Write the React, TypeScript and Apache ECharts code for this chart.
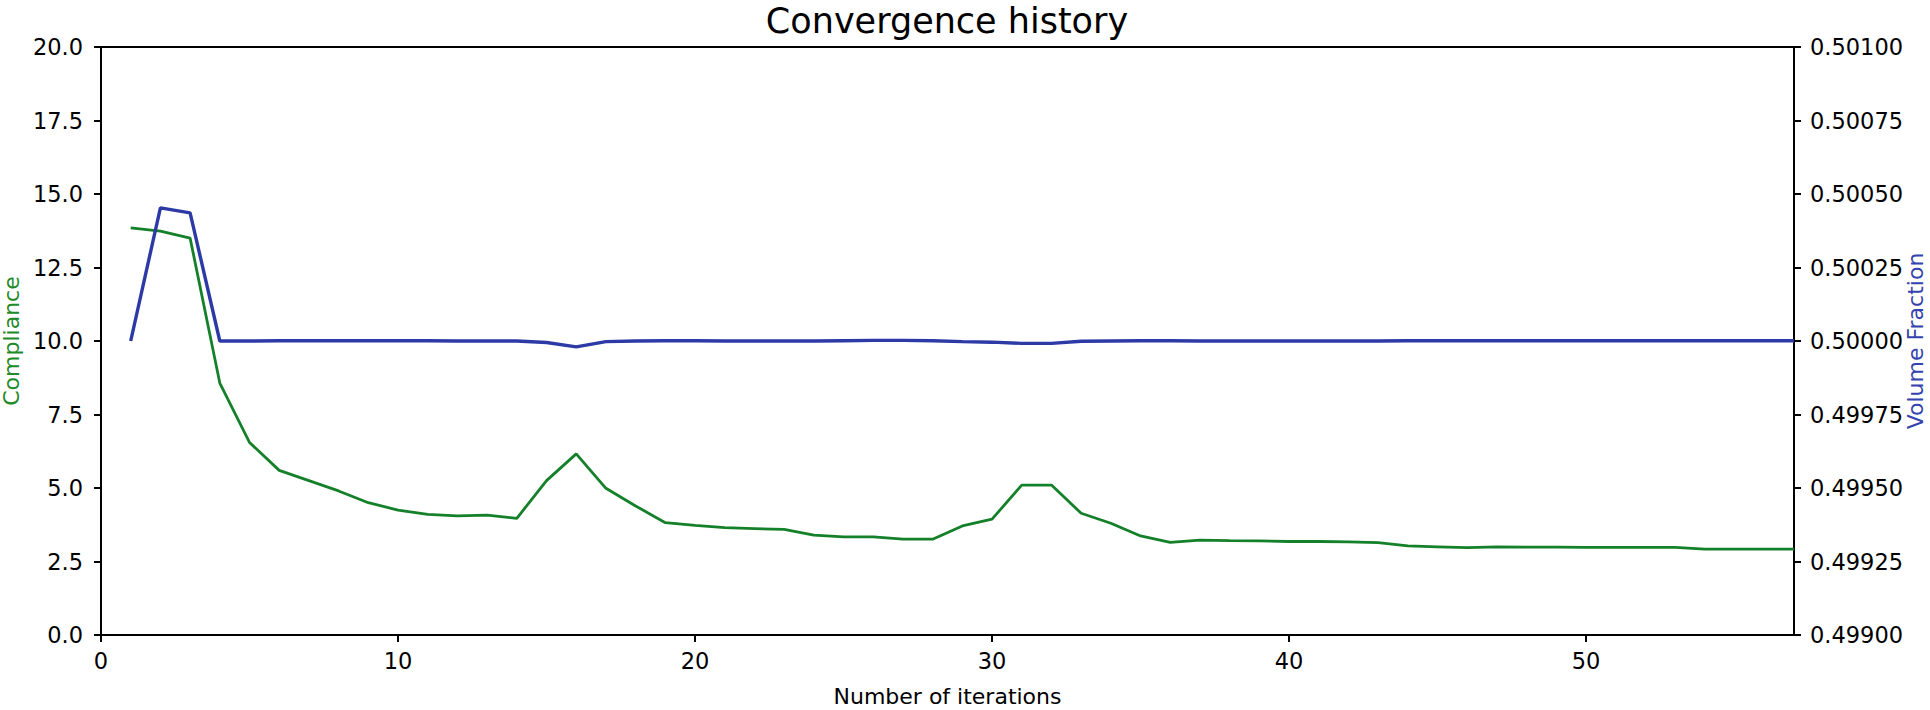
import React, { useEffect, useRef } from "react";
import * as echarts from "echarts";

const iterations: number[] = Array.from({ length: 57 }, (_, i) => i + 1);

const compliance: number[] = [
  13.85, 13.74, 13.5, 8.57, 6.55, 5.6, 5.25, 4.9, 4.5, 4.25,
  4.1, 4.05, 4.08, 3.97, 5.25, 6.16, 4.99, 4.39, 3.82, 3.73,
  3.65, 3.62, 3.59, 3.4, 3.34, 3.34, 3.26, 3.26, 3.71, 3.94,
  5.1, 5.1, 4.14, 3.8, 3.37, 3.15, 3.23, 3.21, 3.2, 3.18,
  3.18, 3.17, 3.14, 3.03, 3.0, 2.97, 3.0, 2.99, 2.99, 2.98,
  2.98, 2.98, 2.98, 2.92, 2.92, 2.92, 2.92,
];

const volumeFraction: number[] = [
  0.5, 0.500453, 0.500436, 0.5, 0.5, 0.500001, 0.500001, 0.500001, 0.500001, 0.500001,
  0.500001, 0.5, 0.5, 0.5, 0.499995, 0.49998, 0.499998, 0.5, 0.500001, 0.500001,
  0.5, 0.5, 0.5, 0.5, 0.500001, 0.500002, 0.500002, 0.500001, 0.499998, 0.499996,
  0.499992, 0.499992, 0.499999, 0.5, 0.500001, 0.500001, 0.5, 0.5, 0.5, 0.5,
  0.5, 0.5, 0.5, 0.500001, 0.500001, 0.500001, 0.500001, 0.500001, 0.500001, 0.500001,
  0.500001, 0.500001, 0.500001, 0.500001, 0.500001, 0.500001, 0.500001,
];

const xTicks: number[] = [0, 10, 20, 30, 40, 50];
const leftTicks: number[] = [0, 2.5, 5, 7.5, 10, 12.5, 15, 17.5, 20];
const rightTicks: number[] = [0.499, 0.49925, 0.4995, 0.49975, 0.5, 0.50025, 0.5005, 0.50075, 0.501];

const FONT = "DejaVu Sans";
const GREEN = "#1f8a2a";
const GREEN_LINE = "#15802a";
const BLUE = "#3443ad";
const BLUE_LINE = "#2d3aa6";

export default function App() {
  const ref = useRef<HTMLDivElement>(null);
  useEffect(() => {
    document.body.style.margin = "0";
    if (!ref.current) return;
    const chart = echarts.init(ref.current, undefined, { renderer: "svg" });
    const axisLine = { show: true, lineStyle: { color: "#000", width: 2 } };
    const axisTickBase = { show: true, inside: false, length: 7, lineStyle: { color: "#000", width: 2 } };
    chart.setOption({
      animation: false,
      backgroundColor: "#fff",
      grid: {
        left: 101,
        right: 136,
        top: 47,
        bottom: 75,
        show: true,
        borderColor: "#000",
        borderWidth: 2,
        backgroundColor: "transparent",
        containLabel: false,
        outerBoundsMode: "none",
      },
      graphic: [
        {
          type: "text",
          x: 947,
          y: 21,
          style: {
            text: "Convergence history",
            fontFamily: FONT,
            fontSize: 35,
            fill: "#000",
            textAlign: "center",
            textVerticalAlign: "middle",
          },
        },
        {
          type: "text",
          x: 1915,
          y: 341,
          rotation: Math.PI / 2,
          style: {
            text: "Volume Fraction",
            fontFamily: FONT,
            fontSize: 22,
            fill: BLUE,
            textAlign: "center",
            textVerticalAlign: "middle",
          },
        },
      ],
      xAxis: {
        type: "value",
        min: 0,
        max: 57,
        splitLine: { show: false },
        axisLine,
        axisTick: { ...axisTickBase, customValues: xTicks },
        axisLabel: {
          customValues: xTicks,
          fontFamily: FONT,
          fontSize: 22.5,
          color: "#000",
          margin: 14,
        },
        name: "Number of iterations",
        nameLocation: "middle",
        nameGap: 50,
        nameTextStyle: { fontFamily: FONT, fontSize: 22, color: "#000" },
      },
      yAxis: [
        {
          type: "value",
          position: "left",
          min: 0,
          max: 20,
          splitLine: { show: false },
          axisLine,
          axisTick: { ...axisTickBase, customValues: leftTicks },
          axisLabel: {
            customValues: leftTicks,
            formatter: (v: number) => v.toFixed(1),
            fontFamily: FONT,
            fontSize: 22.5,
            color: "#000",
            margin: 18,
          },
          name: "Compliance",
          nameLocation: "middle",
          nameRotate: 90,
          nameGap: 72,
          nameTextStyle: { fontFamily: FONT, fontSize: 22, color: GREEN },
        },
        {
          type: "value",
          position: "right",
          min: 0.499,
          max: 0.501,
          splitLine: { show: false },
          axisLine,
          axisTick: { ...axisTickBase, customValues: rightTicks },
          axisLabel: {
            customValues: rightTicks,
            formatter: (v: number) => v.toFixed(5),
            fontFamily: FONT,
            fontSize: 22.5,
            color: "#000",
            margin: 16,
          },
        },
      ],
      series: [
        {
          name: "Compliance",
          type: "line",
          yAxisIndex: 0,
          data: iterations.map((x, i) => [x, compliance[i]]),
          showSymbol: false,
          symbol: "none",
          lineStyle: { color: GREEN_LINE, width: 2.8 },
          itemStyle: { color: GREEN_LINE },
          z: 2,
        },
        {
          name: "Volume Fraction",
          type: "line",
          yAxisIndex: 1,
          data: iterations.map((x, i) => [x, volumeFraction[i]]),
          showSymbol: false,
          symbol: "none",
          lineStyle: { color: BLUE_LINE, width: 3.4 },
          itemStyle: { color: BLUE_LINE },
          z: 3,
        },
      ],
    });
    return () => chart.dispose();
  }, []);
  return <div ref={ref} style={{ width: 1930, height: 710 }} />;
}
